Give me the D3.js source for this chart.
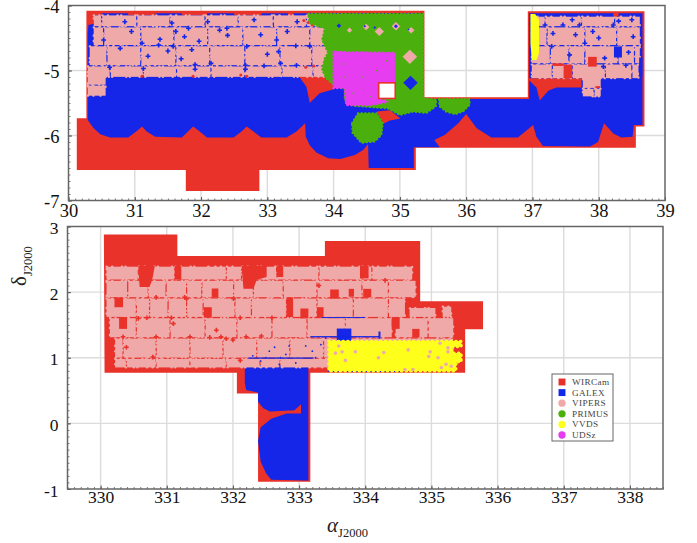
<!DOCTYPE html>
<html><head><meta charset="utf-8">
<script src="https://cdn.jsdelivr.net/npm/d3@7/dist/d3.min.js"></script>
<style>html,body{margin:0;padding:0;background:#fff}svg{display:block}</style>
</head><body><svg id="c" width="697" height="543"></svg>
<script>
// ---------- legend ----------
const surveys = ["WIRCam","GALEX","VIPERS","PRIMUS","VVDS","UDSz"];
const surveyColors = ["#e8302a","#1228e8","#f0a9a9","#4cb00c","#ffff1e","#e63cf0"];
const surveySymbols = ["square","square","circle","circle","circle","circle"];
// ---------- tick labels ----------
const ticksRaTop = [30,31,32,33,34,35,36,37,38,39];
const ticksDecTop = [-4,-5,-6,-7];
const ticksRaBottom = [330,331,332,333,334,335,336,337,338];
const ticksDecBottom = [3,2,1,0,-1];
// ---------- W1 field, [RA, Dec] in degrees ----------
const wircamW1 = [[30.27,-4.08],[30.27,-5.735],[30.125,-5.735],[30.125,-6.53],[31.77,-6.53],[31.77,-6.855],[32.88,-6.855],[32.88,-6.53],[35.24,-6.53],[35.24,-6.19],[38.56,-6.19],[38.56,-5.86],[38.69,-5.86],[38.69,-4.09],[36.93,-4.09],[36.93,-5.41],[35.37,-5.41],[35.37,-4.08]];
const galexW1 = [[30.38,-4.15],[33.62,-4.15],[33.62,-4.12],[35.34,-4.12],[35.34,-5.44],[36.95,-5.44],[36.95,-4.12],[38.66,-4.12],[38.66,-5.84],[38.53,-5.84],[38.51,-6.02],[38.34,-6.03],[38.22,-5.97],[38.08,-5.81],[37.99,-6.10],[37.87,-6.17],[37.16,-6.16],[37.06,-6.02],[37.01,-5.84],[36.78,-6.03],[36.38,-6.03],[36.16,-5.89],[36.0,-5.67],[35.88,-5.81],[35.68,-5.99],[35.52,-6.07],[35.60,-6.18],[35.21,-6.18],[35.21,-6.50],[34.53,-6.50],[34.52,-6.13],[34.45,-6.22],[34.32,-6.30],[34.10,-6.36],[33.92,-6.35],[33.74,-6.26],[33.64,-6.15],[33.58,-6.02],[33.57,-5.81],[33.44,-5.94],[33.29,-6.03],[32.91,-6.03],[32.79,-5.94],[32.69,-5.86],[32.61,-5.94],[32.49,-6.03],[32.09,-6.03],[31.98,-5.94],[31.88,-5.86],[31.71,-6.03],[31.31,-6.02],[31.18,-5.94],[31.11,-5.86],[31.03,-5.93],[30.90,-6.03],[30.63,-6.03],[30.48,-5.98],[30.38,-5.89],[30.29,-5.76],[30.29,-4.43],[30.30,-4.30],[30.38,-4.28]];
const galexW1Strips = [[30.5,30.9,-4.12,-4.16],[31.31,31.71,-4.12,-4.16],[32.09,32.5,-4.12,-4.16],[32.91,33.31,-4.12,-4.16],[33.39,33.62,-4.12,-4.16]];
const wircamW1Patches = [
 [[33.47,-5.08],[34.0,-5.10],[34.0,-5.29],[33.79,-5.35],[33.64,-5.50],[33.59,-5.25]],
 [[34.65,-5.63],[34.85,-5.61],[35.01,-5.74],[34.85,-5.77],[34.75,-5.82]],
 [[36.95,-5.12],[37.74,-5.12],[37.74,-5.26],[37.36,-5.26],[37.24,-5.31],[37.11,-5.46],[37.06,-5.26],[36.95,-5.15]]
];
// VIPERS rows: [RA from, RA to, Dec top, Dec bottom, chip gaps in RA]
const vipersW1Rows = [
 [30.38,34.2,-4.16,-4.31,[30.5,31.03,31.53,32.06,32.56,33.09,33.59]],
 [30.38,34.2,-4.345,-4.60,[30.53,31.09,31.59,32.1,32.63,33.14,33.64]],
 [30.32,34.2,-4.635,-4.91,[30.58,31.09,31.62,32.13,32.66,33.19,33.67]],
 [30.29,34.0,-4.945,-5.09,[30.63,31.13,31.63,32.15,32.66,33.22,33.69]],
 [30.29,30.56,-5.09,-5.21,[]],
 [30.29,30.56,-5.24,-5.38,[]],
 [36.99,38.62,-4.18,-4.31,[37.19,37.74,38.24]],
 [36.99,38.62,-4.345,-4.60,[37.22,37.79,38.27]],
 [36.99,38.62,-4.635,-4.88,[37.27,37.55,37.79,38.29,38.54]],
 [36.99,38.6,-4.915,-5.11,[37.3,37.6,38.1,38.5]],
 [37.76,38.03,-5.11,-5.26,[]],
 [37.76,38.03,-5.29,-5.39,[37.93]]
];
const wircamW1Holes = [[37.47,37.6,-4.91,-5.12],[37.84,37.97,-4.79,-4.94],[38.22,38.3,-4.11,-4.17],[37.95,38.02,-5.24,-5.27],[37.3,37.47,-4.89,-4.93]];
const wircamW1Specks = [[31.11,-5.09],[31.88,-5.09],[32.69,-5.09],[33.55,-4.23],[33.62,-4.26],[33.68,-4.3],[33.58,-4.95],[33.7,-4.93],[32.6,-5.07]];
const galexW1Rects = [[38.23,38.35,-4.63,-4.8],[38.61,38.66,-4.8,-5.08]];
const galexW1Specks = [[30.53,-4.53],[31.11,-4.58],[31.36,-4.61],[31.58,-4.63],[31.81,-4.35],[31.91,-4.91],[32.39,-4.35],[31.56,-4.27],[31.13,-4.97],[32.15,-4.89],[32.67,-4.92],[33.2,-4.89],[32.69,-4.63],[33.14,-4.53],[33.17,-4.71],[33.64,-4.63],[33.44,-4.92],[30.78,-4.66],[31.86,-4.68],[31.62,-4.4],[32.1,-4.25],[32.4,-4.46],[32.9,-4.45],[33.3,-4.4],[33.43,-4.62],[31.2,-4.78],[31.5,-4.7],[30.85,-4.25],[30.62,-4.95],[31.91,-4.98],[32.67,-4.98],[31.75,-4.48],[31.38,-4.52],[32.28,-4.38],[32.8,-4.22],[33.45,-4.25],[33.0,-4.75],[30.95,-4.4],[31.7,-4.82],[31.97,-4.55],[32.95,-4.93],[37.19,-4.30],[37.46,-4.30],[37.71,-4.30],[37.29,-4.63],[37.56,-4.76],[37.79,-4.58],[38.09,-4.81],[38.22,-4.30],[38.52,-4.48],[38.41,-4.92],[38.07,-4.94],[37.31,-4.43],[37.91,-4.40],[38.3,-4.24],[38.5,-4.22],[37.6,-4.22],[38.0,-4.5],[38.45,-4.72],[37.65,-4.45]];
const primusW1 = [
 [[33.62,-4.13],[35.35,-4.13],[35.35,-5.43],[35.55,-5.45],[35.54,-5.55],[35.40,-5.65],[35.20,-5.63],[35.0,-5.68],[34.82,-5.58],[34.55,-5.56],[34.29,-5.54],[34.17,-5.45],[34.17,-5.27],[34.0,-5.22],[33.89,-5.12],[33.83,-4.99],[33.87,-4.81],[33.92,-4.73],[33.83,-4.53],[33.87,-4.35],[33.64,-4.27]],
 [[34.28,-5.81],[34.37,-5.66],[34.65,-5.66],[34.74,-5.81],[34.72,-5.99],[34.62,-6.09],[34.42,-6.11],[34.29,-5.96]],
 [[35.59,-5.44],[36.05,-5.44],[36.05,-5.53],[35.95,-5.63],[35.83,-5.67],[35.70,-5.63],[35.60,-5.55]]
];
const vipersW1Windows = [[34.24,-4.38,0.04],[34.49,-4.33,0.05],[34.69,-4.40,0.07],[34.94,-4.32,0.065],[35.17,-4.38,0.05],[35.15,-4.79,0.11]];
const galexW1Windows = [[34.08,-4.31,0.035],[34.94,-4.32,0.03],[35.16,-5.19,0.11],[34.47,-4.32,0.02],[34.62,-4.34,0.02],[35.13,-4.37,0.015]];
const udszW1 = [[34.0,-4.71],[34.17,-4.72],[34.92,-4.73],[34.92,-5.19],[34.67,-5.19],[34.67,-5.43],[34.82,-5.48],[34.55,-5.53],[34.19,-5.53],[34.17,-5.27],[34.0,-5.27]];
const udszW1Grains = [[34.17,-4.9],[34.17,-5.1],[34.42,-4.8],[34.43,-5.1],[34.45,-5.3],[34.55,-5.4],[34.65,-5.0],[34.8,-4.85],[34.28,-5.35]];
const vvdsW1 = [[36.97,-4.13],[37.04,-4.13],[37.10,-4.22],[37.10,-4.73],[37.06,-4.84],[36.99,-4.84],[36.97,-4.58]];
const maskW1 = [34.68,34.93,-5.19,-5.43];
// ---------- W4 field ----------
const wircamW4 = [[330.05,2.88],[331.16,2.88],[331.16,2.55],[333.39,2.55],[333.39,2.78],[334.83,2.78],[334.83,1.86],[335.78,1.86],[335.78,1.435],[335.51,1.435],[335.51,0.77],[333.17,0.77],[333.17,-0.89],[332.38,-0.89],[332.38,0.454],[332.06,0.454],[332.06,0.77],[330.06,0.77]];
const galexW4 = [[332.18,0.89],[333.14,0.89],[333.14,-0.87],[332.58,-0.86],[332.5,-0.76],[332.42,-0.58],[332.38,-0.27],[332.42,-0.06],[332.58,0.07],[332.81,0.15],[333.03,0.15],[333.03,0.29],[332.93,0.2],[332.56,0.18],[332.46,0.23],[332.38,0.33],[332.38,0.47],[332.2,0.51],[332.18,0.62]];
const galexW4Rects = [[333.57,333.79,1.445,1.26],[333.72,334.58,0.835,0.785],[333.44,333.6,0.835,0.785],[333.17,334.22,1.33,1.31],[333.34,334.0,1.62,1.605],[334.2,334.23,1.4,1.29],[332.23,333.22,1.005,0.985]];
const galexW4Specks = [[332.3,1.03],[332.42,0.95],[332.55,1.1],[332.63,1.16],[332.72,1.0],[332.85,1.18],[332.8,1.05],[332.95,0.92],[333.1,1.18],[333.2,1.1],[333.25,1.0],[333.33,1.2],[333.4,1.3],[332.5,1.0],[332.7,0.9]];
const vipersW4Rows = [
 [330.09,334.71,2.38,2.2,[330.57,331.12,331.9,332.13,332.66,333.3,333.95,334.1]],
 [330.09,334.76,2.165,1.93,[330.41,330.72,330.99,331.3,331.53,332.01,332.31,332.76,333.27,333.95,334.35]],
 [330.09,334.6,1.895,1.63,[330.54,330.74,331.02,331.3,331.55,332.03,332.28,332.81,333.27,333.82,334.35]],
 [334.67,335.06,1.75,1.63,[]],
 [335.17,335.3,1.77,1.63,[]],
 [330.14,334.4,1.595,1.32,[330.54,331.05,331.58,332.06,332.59,333.12,333.7]],
 [334.46,335.33,1.595,1.32,[334.95]],
 [330.22,335.33,1.285,1.01,[330.34,330.84,331.35,331.85,332.36,332.86,333.37]],
 [330.22,335.33,0.975,0.86,[330.39,330.84,331.35,331.9,332.41,332.71]]
];
const wircamW4Holes = [[331.68,331.78,2.055,1.92],[330.21,330.34,1.92,1.77],[332.81,332.91,1.92,1.62],[331.56,331.68,1.77,1.61],[333.02,333.14,1.75,1.6],[333.27,333.37,1.77,1.61],[330.28,330.40,1.62,1.44],[333.47,333.60,2.04,1.9],[333.92,334.05,2.4,2.21],[333.97,334.09,2.05,1.92],[333.75,333.83,2.05,1.93],[334.40,334.52,1.62,1.44],[334.71,334.82,1.44,1.31],[334.61,334.67,1.9,1.76],[331.12,331.22,2.4,2.19],[332.66,332.76,2.4,2.23]];
const wircamW4Notches = [
 [[330.57,2.4],[330.82,2.4],[330.78,2.19],[330.74,2.08],[330.59,2.08]],
 [[332.13,2.4],[332.51,2.4],[332.51,2.23],[332.36,2.19],[332.31,2.05],[332.16,2.05]]
];
const wircamW4Specks = [[330.57,1.60],[331.10,1.52],[331.65,1.31],[331.90,1.29],[332.43,1.33],[332.0,1.27],[330.84,1.92],[331.27,1.92],[332.01,1.90],[332.59,1.61],[332.11,1.61],[331.07,1.61],[330.34,1.32],[330.84,1.32],[331.35,1.32],[330.39,1.16],[331.75,1.42],[332.11,0.96],[330.79,1.01],[331.3,1.9],[331.82,1.32],[332.2,1.32],[330.7,1.61],[333.3,2.1],[334.3,2.18]];
const vvdsW4 = [[333.45,1.25],[335.45,1.25],[335.45,1.17],[335.31,1.17],[335.31,1.07],[335.45,1.07],[335.45,0.94],[335.37,0.94],[335.37,0.80],[333.45,0.80]];
const vipersW4Specks = [[333.65,1.09],[333.55,1.07],[333.85,1.09],[334.28,1.08],[334.98,1.09],[334.96,1.02],[335.25,1.09],[333.7,0.96],[335.13,1.22],[335.25,1.15],[335.3,0.87],[335.15,0.85],[335.22,0.9],[334.2,1.0],[333.6,1.18],[334.6,0.82],[334.72,0.82],[335.1,1.0],[334.65,1.12]];

// ---------- drawing ----------
const svg = d3.select("#c");
const [RED,BLUE,PINK,GREEN,YELLOW,MAGENTA] = surveyColors;
const defs = svg.append("defs");
defs.append("filter").attr("id","soft").append("feGaussianBlur").attr("stdDeviation",0.4);

function panel(xDom,xRange,yDom,yRange,xt,yt,labelBase,fs){
  const x = d3.scaleLinear(xDom,xRange), y = d3.scaleLinear(yDom,yRange);
  const g = svg.append("g");
  const bottom = yRange[0], top = yRange[1];
  g.selectAll("line.gx").data(xt.filter(t=>t>xDom[0]&&t<xDom[1])).join("line")
    .attr("x1",d=>x(d)).attr("x2",d=>x(d)).attr("y1",top).attr("y2",bottom).attr("stroke","#dcdcdc").attr("stroke-width",1.4);
  g.selectAll("line.gy").data(yt.filter(t=>t>yDom[0]&&t<yDom[1])).join("line")
    .attr("x1",xRange[0]).attr("x2",xRange[1]).attr("y1",d=>y(d)).attr("y2",d=>y(d)).attr("stroke","#dcdcdc").attr("stroke-width",1.4);
  const marks = g.append("g").attr("filter","url(#soft)");
  const line = d3.line().x(d=>x(d[0])).y(d=>y(d[1]));
  return {x,y,g,marks,line,xRange,yRange,xDom,yDom,xt,yt,fs,labelBase};
}
function poly(p,pts,fill){ p.marks.append("path").attr("d",p.line(pts)+"Z").attr("fill",fill); }
function polyRough(p,pts,fill,w=2.4,dash="0.5 3.2"){ p.marks.append("path").attr("d",p.line(pts)+"Z").attr("fill",fill).attr("stroke",fill).attr("stroke-width",w).attr("stroke-linecap","round").attr("stroke-dasharray",dash); }
function rects(p,list,fill,rough){
  const s=p.marks.append("g").selectAll("rect").data(list).join("rect")
   .attr("x",d=>p.x(d[0])).attr("width",d=>p.x(d[1])-p.x(d[0]))
   .attr("y",d=>p.y(d[2])-(rough?0.5:0)).attr("height",d=>p.y(d[3])-p.y(d[2])+(rough?1:0)).attr("fill",fill);
  if(rough) s.attr("stroke",fill).attr("stroke-width",2.2).attr("stroke-linecap","round").attr("stroke-dasharray","0.4 5.1 0.4 9.3 0.4 3.2 0.4 13.7 0.4 6.6");
}
function specks(p,list,fill,r){
  p.marks.append("g").selectAll("circle").data(list).join("circle")
   .attr("cx",d=>p.x(d[0])).attr("cy",d=>p.y(d[1])).attr("r",r).attr("fill",fill);
}
function crossSpecks(p,list,fill,s){
  p.marks.append("g").selectAll("path").data(list).join("path")
   .attr("transform",d=>`translate(${p.x(d[0])},${p.y(d[1])})`)
   .attr("d",d3.symbol(d3.symbolCross,s)).attr("fill",fill);
}
function diamonds(p,list,fill){
  p.marks.append("g").selectAll("path").data(list).join("path").attr("fill",fill)
   .attr("d",d=>p.line([[d[0]-d[2],d[1]],[d[0],d[1]+d[2]],[d[0]+d[2],d[1]],[d[0],d[1]-d[2]]])+"Z");
}
function rows(p,list,fill){
  const out=[];
  list.forEach(([a,b,t,u,gaps])=>{
    const e=[a,...gaps,b];
    for(let i=0;i<e.length-1;i++){
      out.push([e[i]+(i?0.009:0),e[i+1]-(i<e.length-2?0.009:0),t,u]);
    }
  });
  rects(p,out,fill,true);
}
function axes(p){
  const {x,y,g,xRange,yRange,xDom,yDom,xt,yt,fs,labelBase}=p;
  const bottom=yRange[0],top=yRange[1],left=xRange[0];
  const minorX=d3.range(Math.ceil(xDom[0]*10),Math.floor(xDom[1]*10)+1).map(d=>d/10);
  const minorY=d3.range(Math.ceil(yDom[0]*10),Math.floor(yDom[1]*10)+1).map(d=>d/10);
  const ax=g.append("g").attr("transform",`translate(0,${bottom})`)
    .call(d3.axisBottom(x).tickValues(minorX).tickSize(-2).tickFormat(""));
  const ay=g.append("g").attr("transform",`translate(${left},0)`)
    .call(d3.axisLeft(y).tickValues(minorY).tickSize(-2).tickFormat(""));
  [ax,ay].forEach(a=>{a.select(".domain").remove();a.selectAll("line").attr("stroke","#555").attr("stroke-width",0.8);});
  const bx=g.append("g").attr("transform",`translate(0,${bottom})`)
    .call(d3.axisBottom(x).tickValues(xt).tickSize(-3.5).tickPadding(labelBase).tickFormat(d3.format("d")));
  const by=g.append("g").attr("transform",`translate(${left},0)`)
    .call(d3.axisLeft(y).tickValues(yt).tickSize(-3.5).tickPadding(9).tickFormat(d=>String(d)));
  [bx,by].forEach(a=>{a.select(".domain").remove();
    a.selectAll("line").attr("stroke","#555").attr("stroke-width",1);
    a.selectAll("text").attr("font-family","'Liberation Serif',serif").attr("font-size",fs).attr("fill","#111");});
  by.selectAll("text").attr("dy","0.4em");
  g.append("rect").attr("x",xRange[0]).attr("y",top).attr("width",xRange[1]-xRange[0]).attr("height",bottom-top)
    .attr("fill","none").attr("stroke","#666").attr("stroke-width",1.5);
}

// W1
const p1 = panel([30,39],[68.5,665],[-7,-4],[200.5,5.5],ticksRaTop,ticksDecTop,3,18.5);
poly(p1,wircamW1,RED);
poly(p1,galexW1,BLUE);
rects(p1,galexW1Strips,BLUE);
wircamW1Patches.forEach(q=>poly(p1,q,RED));
rows(p1,vipersW1Rows,PINK);
rects(p1,wircamW1Holes,RED);
specks(p1,wircamW1Specks,RED,1.5);
rects(p1,galexW1Rects,BLUE);
crossSpecks(p1,galexW1Specks,BLUE,13);
primusW1.forEach(q=>{poly(p1,q,GREEN);polyRough(p1,q,GREEN);});
diamonds(p1,vipersW1Windows,PINK);
diamonds(p1,galexW1Windows,BLUE);
polyRough(p1,udszW1,MAGENTA);poly(p1,udszW1,MAGENTA);
specks(p1,udszW1Grains,GREEN,0.7);
poly(p1,vvdsW1,YELLOW);
p1.marks.append("rect").attr("x",p1.x(maskW1[0])).attr("width",p1.x(maskW1[1])-p1.x(maskW1[0]))
  .attr("y",p1.y(maskW1[2])).attr("height",p1.y(maskW1[3])-p1.y(maskW1[2]))
  .attr("fill","#fff").attr("stroke",RED).attr("stroke-width",1.6);
axes(p1);

// W4
const p2 = panel([329.5,338.5],[67.5,663],[-1,3],[489,226.5],ticksRaBottom,ticksDecBottom,2,17.5);
poly(p2,wircamW4,RED);
poly(p2,galexW4,BLUE);
rows(p2,vipersW4Rows,PINK);
rects(p2,wircamW4Holes,RED);
wircamW4Notches.forEach(q=>poly(p2,q,RED));
crossSpecks(p2,wircamW4Specks,RED,12);
rects(p2,galexW4Rects,BLUE);
specks(p2,galexW4Specks,BLUE,0.9);
polyRough(p2,vvdsW4,YELLOW,3.2,"0.5 4.2");poly(p2,vvdsW4,YELLOW);
specks(p2,vipersW4Specks,PINK,1.8);
axes(p2);

// axis titles
const serif="'Liberation Serif',serif";
const ra=svg.append("text").attr("x",327).attr("y",532).attr("font-family",serif).attr("fill","#222");
ra.append("tspan").attr("font-style","italic").attr("font-size",21).text("α");
ra.append("tspan").attr("font-size",12.5).attr("dy",5).text("J2000");
const de=svg.append("text").attr("transform","translate(26,286) rotate(-90)").attr("font-family",serif).attr("fill","#222");
de.append("tspan").attr("font-size",21).text("δ");
de.append("tspan").attr("font-size",12.5).attr("dy",6).text("J2000");

// legend
const lg=svg.append("g").attr("transform","translate(552,374)");
lg.append("rect").attr("width",61).attr("height",67).attr("fill","#fff").attr("stroke","#666").attr("stroke-width",1);
const rowY=d3.scalePoint(surveys,[8,61]);
const li=lg.selectAll("g").data(surveys).join("g").attr("transform",d=>`translate(0,${rowY(d)})`);
li.append("path").attr("transform","translate(10,0)")
  .attr("d",(d,i)=>d3.symbol(surveySymbols[i]==="square"?d3.symbolSquare:d3.symbolCircle,surveySymbols[i]==="square"?48:42)())
  .attr("fill",(d,i)=>surveyColors[i]);
li.append("text").attr("x",20).attr("dy","0.32em").attr("font-family",serif).attr("font-size",9.2).attr("fill","#444").attr("letter-spacing",0.4).text(d=>d);
</script></body></html>
